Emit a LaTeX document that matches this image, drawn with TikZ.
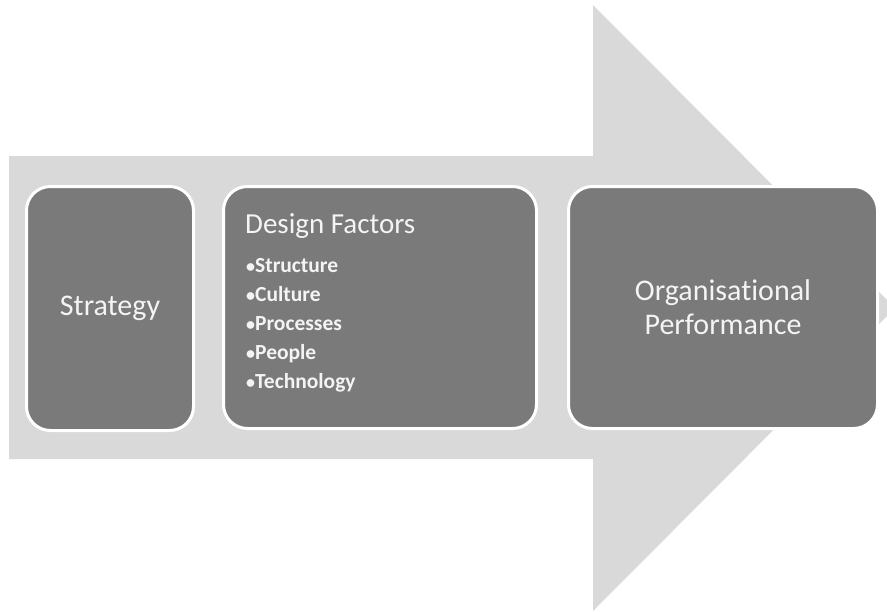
\documentclass[tikz,border=0pt]{standalone}
\usepackage{fontspec}
\setmainfont{Carlito}[Ligatures={NoCommon}]
\definecolor{arrowgray}{HTML}{D9D9D9}
\definecolor{boxgray}{HTML}{7A7A7A}
\definecolor{txtwhite}{HTML}{F4F4F4}
\begin{document}
\begin{tikzpicture}[x=1pt,y=-1pt,
  box/.style={draw=white, line width=3pt, fill=boxgray, rounded corners=24pt,
    inner sep=0pt, text=txtwhite},
  bigtext/.style={font=\fontsize{30}{34}\selectfont, text=txtwhite, align=center, inner sep=0pt},
  headtext/.style={font=\fontsize{29}{34}\selectfont, text=txtwhite, inner sep=0pt, anchor=base west},
  itemtext/.style={font=\bfseries\fontsize{21.5}{26}\selectfont, text=txtwhite, inner sep=0pt, anchor=base west}]
\useasboundingbox (0,0) rectangle (887,611);
\clip (0,0) rectangle (887,611);
% big background arrow
\fill[arrowgray] (9,156) -- (593,156) -- (593,5) -- (895,308) -- (593,611)
  -- (593,459) -- (9,459) -- cycle;
% boxes
\node[box, minimum width=167pt, minimum height=244pt] (strategy) at (110,308.5) {};
\node[bigtext] (strategytxt) at (strategy.center) {Strategy};
\node[box, minimum width=313pt, minimum height=242pt] (design) at (380,307.5) {};
\node[headtext] (dfhead) at (245,233) {Design Factors};
\foreach \t [count=\i] in {Structure,Culture,Processes,People,Technology}
  \node[itemtext] (item\i) at (246,{272+29*(\i-1)}) {{\fontsize{18}{20}\selectfont•}\t};
\node[box, minimum width=309pt, minimum height=242pt] (perf) at (723,307.5) {};
\node[bigtext] (perftxt) at (perf.center) {Organisational\\Performance};
\end{tikzpicture}
\end{document}
